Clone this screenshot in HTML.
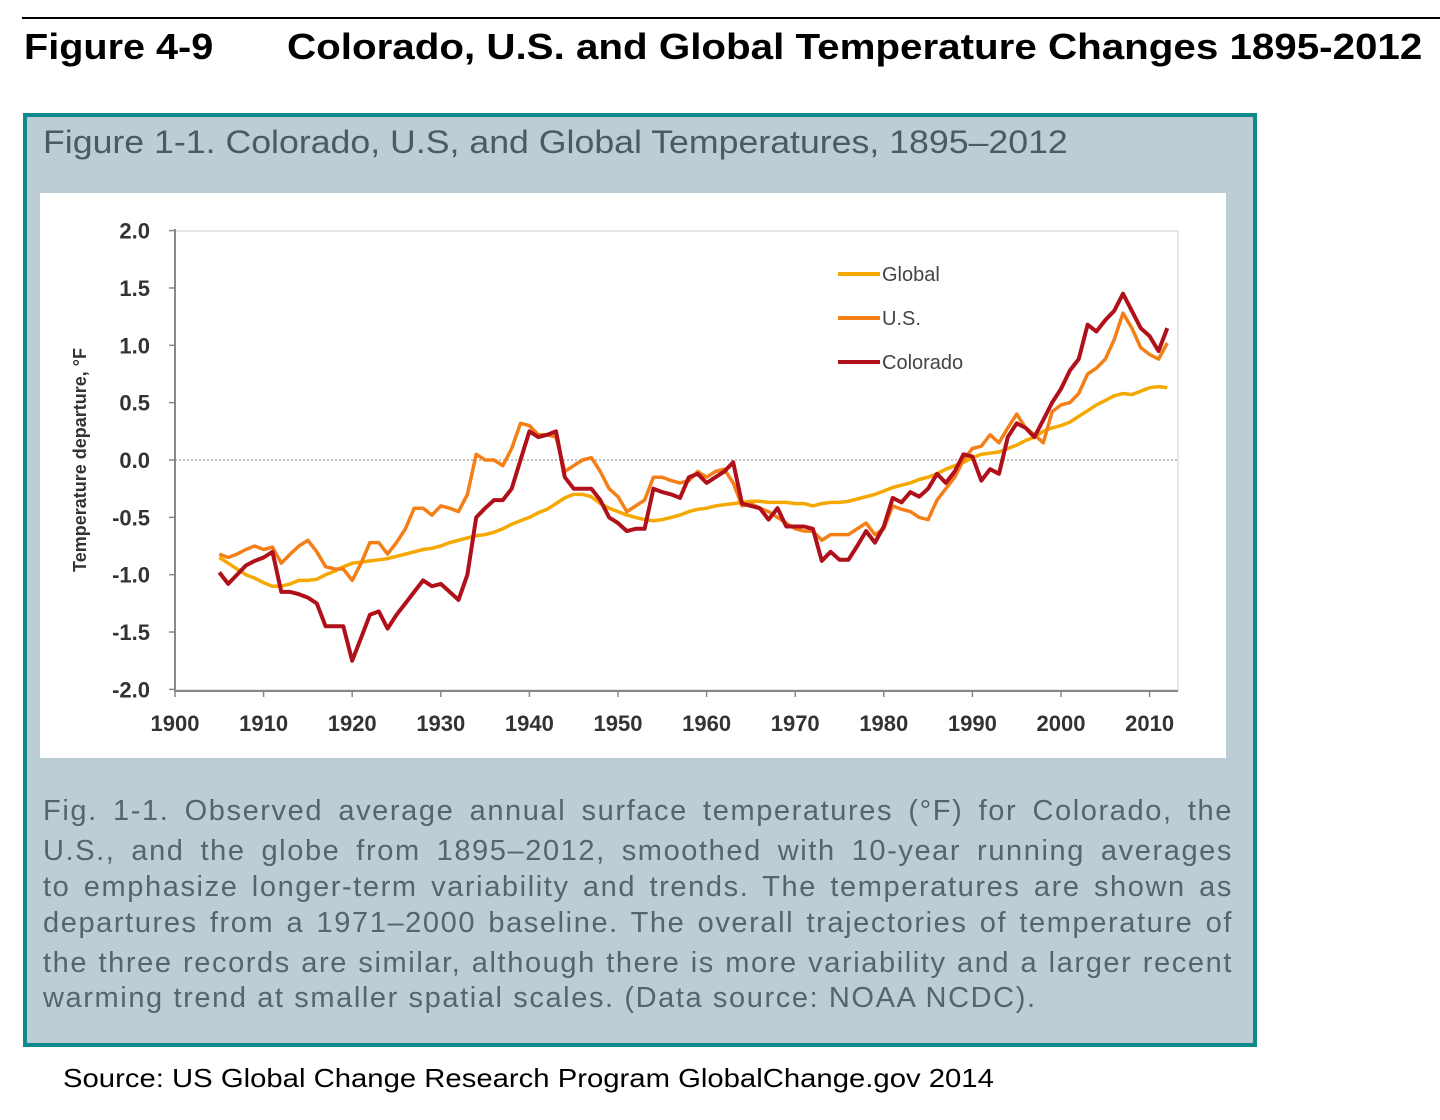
<!DOCTYPE html>
<html><head><meta charset="utf-8"><style>
body{margin:0;width:1440px;height:1120px;background:#fff;position:relative;font-family:"Liberation Sans",sans-serif;overflow:hidden}
.abs{position:absolute}
.sx{transform-origin:0 0;white-space:nowrap}
.cl{position:absolute;left:43px;width:1190px;font-size:29px;letter-spacing:1.6px;color:#56646c;text-align:justify;text-align-last:justify;white-space:nowrap}
</style></head><body>
<div class="abs" style="left:22px;top:17px;width:1418px;height:2px;background:#000"></div>
<div class="abs sx" style="left:24px;top:26px;font-size:36px;font-weight:bold;transform:scaleX(1.1)">Figure 4-9</div>
<div class="abs sx" style="left:287px;top:26px;font-size:36px;font-weight:bold;transform:scaleX(1.12)">Colorado, U.S. and Global Temperature Changes 1895-2012</div>
<div class="abs" style="left:23px;top:113px;width:1226px;height:926px;border:4px solid #0e8a8c;background:#bccdd6"></div>
<div class="abs sx" style="left:43px;top:124px;font-size:32px;color:#4d5a62;transform:scaleX(1.115)">Figure 1-1. Colorado, U.S, and Global Temperatures, 1895–2012</div>
<div class="abs" style="left:40px;top:193px;width:1186px;height:565px;background:#fff"></div>
<svg class="abs" style="left:0;top:0" width="1440" height="1120" id="chart"></svg>
<div>
<div class="cl" style="top:795px">Fig. 1-1. Observed average annual surface temperatures (°F) for Colorado, the</div>
<div class="cl" style="top:835px">U.S., and the globe from 1895–2012, smoothed with 10-year running averages</div>
<div class="cl" style="top:871px">to emphasize longer-term variability and trends. The temperatures are shown as</div>
<div class="cl" style="top:907px">departures from a 1971–2000 baseline. The overall trajectories of temperature of</div>
<div class="cl" style="top:947px">the three records are similar, although there is more variability and a larger recent</div>
<div class="cl" style="top:982px;width:982px">warming trend at smaller spatial scales. (Data source: NOAA NCDC).</div>
</div>
<div class="abs sx" style="left:63px;top:1063px;font-size:26px;transform:scaleX(1.126)">Source: US Global Change Research Program GlobalChange.gov 2014</div>
<script>
const years=[];for(let y=1905;y<=2012;y++)years.push(y);
const colorado=[-0.98,-1.08,-1.0,-0.92,-0.88,-0.85,-0.8,-1.15,-1.15,-1.17,-1.2,-1.25,-1.45,-1.45,-1.45,-1.75,-1.55,-1.35,-1.32,-1.47,-1.35,-1.25,-1.15,-1.05,-1.1,-1.08,-1.15,-1.22,-1.0,-0.5,-0.42,-0.35,-0.35,-0.25,0.0,0.25,0.2,0.22,0.25,-0.15,-0.25,-0.25,-0.25,-0.35,-0.5,-0.55,-0.62,-0.6,-0.6,-0.25,-0.28,-0.3,-0.33,-0.15,-0.12,-0.2,-0.15,-0.1,-0.02,-0.38,-0.4,-0.42,-0.52,-0.42,-0.58,-0.58,-0.58,-0.6,-0.88,-0.8,-0.87,-0.87,-0.75,-0.62,-0.72,-0.58,-0.33,-0.37,-0.28,-0.32,-0.25,-0.12,-0.2,-0.1,0.05,0.03,-0.18,-0.08,-0.12,0.2,0.32,0.28,0.2,0.35,0.5,0.62,0.78,0.88,1.18,1.12,1.22,1.3,1.45,1.3,1.15,1.08,0.95,1.15];
const us=[-0.82,-0.85,-0.82,-0.78,-0.75,-0.78,-0.76,-0.9,-0.82,-0.75,-0.7,-0.8,-0.93,-0.95,-0.95,-1.05,-0.9,-0.72,-0.72,-0.82,-0.72,-0.6,-0.42,-0.42,-0.48,-0.4,-0.42,-0.45,-0.3,0.05,0.0,0.0,-0.05,0.1,0.32,0.3,0.22,0.22,0.2,-0.1,-0.05,0.0,0.02,-0.1,-0.25,-0.32,-0.45,-0.4,-0.35,-0.15,-0.15,-0.18,-0.2,-0.18,-0.1,-0.15,-0.1,-0.08,-0.2,-0.4,-0.38,-0.42,-0.45,-0.5,-0.55,-0.6,-0.62,-0.62,-0.7,-0.65,-0.65,-0.65,-0.6,-0.55,-0.65,-0.6,-0.4,-0.43,-0.45,-0.5,-0.52,-0.35,-0.25,-0.15,0.0,0.1,0.12,0.22,0.15,0.28,0.4,0.28,0.22,0.15,0.42,0.48,0.5,0.58,0.75,0.8,0.88,1.05,1.28,1.15,0.98,0.92,0.88,1.02];
const globalT=[-0.85,-0.9,-0.95,-1.0,-1.03,-1.07,-1.1,-1.1,-1.08,-1.05,-1.05,-1.04,-1.0,-0.97,-0.93,-0.9,-0.89,-0.88,-0.87,-0.86,-0.84,-0.82,-0.8,-0.78,-0.77,-0.75,-0.72,-0.7,-0.68,-0.66,-0.65,-0.63,-0.6,-0.56,-0.53,-0.5,-0.46,-0.43,-0.38,-0.33,-0.3,-0.3,-0.32,-0.38,-0.42,-0.45,-0.48,-0.5,-0.52,-0.53,-0.52,-0.5,-0.48,-0.45,-0.43,-0.42,-0.4,-0.39,-0.38,-0.37,-0.36,-0.36,-0.37,-0.37,-0.37,-0.38,-0.38,-0.4,-0.38,-0.37,-0.37,-0.36,-0.34,-0.32,-0.3,-0.27,-0.24,-0.22,-0.2,-0.17,-0.15,-0.12,-0.08,-0.05,-0.02,0.02,0.05,0.06,0.07,0.1,0.13,0.17,0.2,0.25,0.28,0.3,0.33,0.38,0.43,0.48,0.52,0.56,0.58,0.57,0.6,0.63,0.64,0.63];
const yTicks=[2.0,1.5,1.0,0.5,0.0,-0.5,-1.0,-1.5,-2.0];
const yTickLabels=["2.0","1.5","1.0","0.5","0.0","-0.5","-1.0","-1.5","-2.0"];
const xTicks=[1900,1910,1920,1930,1940,1950,1960,1970,1980,1990,2000,2010];
const seriesNames=["Global","U.S.","Colorado"];
const X=y=>175+(y-1900)*8.86;
const Y=v=>460-v*114.7;
const svg=document.getElementById('chart');
const NS="http://www.w3.org/2000/svg";
function mk(t,a){const e=document.createElementNS(NS,t);for(const k in a)e.setAttribute(k,a[k]);svg.appendChild(e);return e;}
let e=mk('rect',{x:175,y:231,width:1003,height:459,fill:'none',stroke:'#ddd','stroke-width':1.5});


e=mk('line',{x1:175,y1:Y(0),x2:1178,y2:Y(0),stroke:'#aaa','stroke-width':1.5,'stroke-dasharray':'2,2'});


e=mk('line',{x1:175,y1:229,x2:175,y2:692,stroke:'#888','stroke-width':2});


e=mk('line',{x1:175,y1:691,x2:1178,y2:691,stroke:'#888','stroke-width':2});


yTicks.forEach((v,i)=>{
 let t=mk('line',{x1:169,y1:Y(v),x2:175,y2:Y(v),stroke:'#888','stroke-width':1.5});
 
 
 let l=mk('text',{x:150,y:Y(v)+8,'text-anchor':'end','font-size':22,'font-weight':'bold',fill:'#333','font-family':'Liberation Sans, sans-serif'});
 l.textContent=yTickLabels[i];
 
 
});
xTicks.forEach(v=>{
 let t=mk('line',{x1:X(v),y1:691,x2:X(v),y2:697,stroke:'#888','stroke-width':1.5});
 
 
 let l=mk('text',{x:X(v),y:731,'text-anchor':'middle','font-size':22,'font-weight':'bold',fill:'#333','font-family':'Liberation Sans, sans-serif'});
 l.textContent=String(v);
 
 
});
e=mk('text',{x:0,y:0,transform:'translate(86,460) rotate(-90)','text-anchor':'middle','font-size':18,'font-weight':'bold',fill:'#333','font-family':'Liberation Sans, sans-serif'});
e.textContent='Temperature departure, °F';


const colors=['#f5a800','#f57f17','#b0101a'];
const data=[globalT,us,colorado];
const names=['series-global','series-us','series-colorado'];
data.forEach((d,i)=>{
 const pts=d.map((v,j)=>X(years[j]).toFixed(1)+','+Y(v).toFixed(1)).join(' ');
 let p=mk('polyline',{points:pts,fill:'none',stroke:colors[i],'stroke-width':i==2?4:3.5,'stroke-linejoin':'round'});
 
 
});
seriesNames.forEach((n,i)=>{
 const ly=274+i*44;
 let l=mk('line',{x1:838,y1:ly,x2:880,y2:ly,stroke:colors[i],'stroke-width':4});
 
 
 let t=mk('text',{x:882,y:ly+7,'font-size':20,fill:'#444','font-family':'Liberation Sans, sans-serif'});
 t.textContent=n;
 
 
});
</script>
</body></html>
